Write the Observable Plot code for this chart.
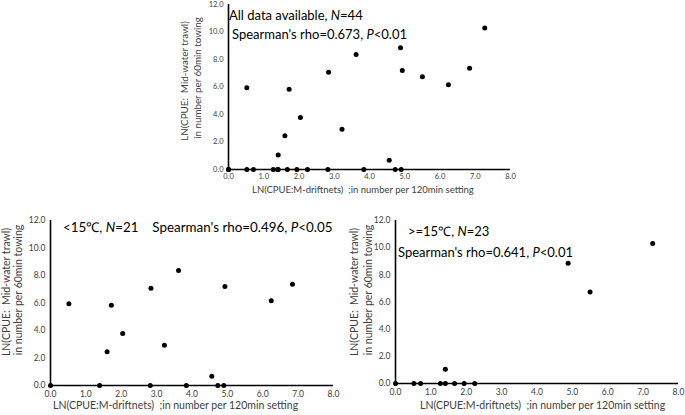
<!DOCTYPE html>
<html>
<head>
<meta charset="utf-8">
<script src="https://cdn.jsdelivr.net/npm/d3@7"></script>
<script src="https://cdn.jsdelivr.net/npm/@observablehq/plot@0.6"></script>
<style>
  html, body { margin: 0; padding: 0; background: #fff; }
  #root { position: relative; width: 685px; height: 415px; overflow: hidden; font-family: Lato, "Open Sans", sans-serif; }
  .svgbox { position: absolute; }
  .t { position: absolute; white-space: nowrap; color: #000; line-height: 1; }
  .lab { position: absolute; white-space: nowrap; color: #404040; line-height: 1; }
  .rot { position: absolute; white-space: nowrap; color: #404040; line-height: 1; transform: translate(-50%, -50%) rotate(-90deg); }
</style>
</head>
<body>
<div id="root"></div>
<script>
// Data: LN(CPUE) M-driftnets (x) vs LN(CPUE) mid-water trawl (y)
const coldX = [0.52, 1.72, 2.84, 3.62, 4.93, 6.24, 6.84, 1.60, 2.04, 3.22, 4.56, 0, 1.39, 2.82, 3.84, 4.73, 4.90];
const coldY = [5.94, 5.84, 7.08, 8.36, 7.20, 6.16, 7.37, 2.45, 3.78, 2.93, 0.68, 0, 0, 0, 0, 0, 0];
const warmX = [7.27, 4.88, 5.50, 1.41, 0, 0.52, 0.71, 1.27, 1.41, 1.67, 1.94, 2.24];
const warmY = [10.3, 8.85, 6.74, 1.05, 0, 0, 0, 0, 0, 0, 0, 0];
const xTicks = [0, 1, 2, 3, 4, 5, 6, 7, 8];
const yTicks = [0, 2, 4, 6, 8, 10, 12];
const xTitle = "LN(CPUE:M-driftnets)\u00a0 ;in number per 120min setting";
const yTitle1 = "LN(CPUE:\u00a0 Mid-water trawl)";
const yTitle2 = "in number per 60min towing";

const toPts = (xs, ys) => xs.map((x, i) => ({x, y: ys[i]}));
const cold = toPts(coldX, coldY);
const warm = toPts(warmX, warmY);
const all = cold.concat(warm);

const root = document.getElementById("root");

function panel({data, left, top, width, height, ml, mr, mt, mb, fs, r, pad}) {
  const p = Plot.plot({
    width, height,
    marginLeft: ml, marginRight: mr, marginTop: mt, marginBottom: mb,
    x: {domain: [0, 8]},
    y: {domain: [0, 12]},
    style: {fontFamily: "Lato, 'Open Sans', sans-serif", fontSize: fs + "px", color: "#404040", background: "transparent", overflow: "visible"},
    marks: [
      Plot.axisX(xTicks, {tickSize: 0, tickPadding: pad, tickFormat: d => d.toFixed(1), label: null, fill: "#404040"}),
      Plot.axisY(yTicks, {tickSize: 0, tickPadding: 5, tickFormat: d => d.toFixed(1), label: null, fill: "#404040"}),
      Plot.ruleY([0], {x1: 0, x2: 8, stroke: "#000", strokeWidth: 1.6}),
      Plot.ruleX([0], {y1: 0, y2: 12, stroke: "#000", strokeWidth: 1.6}),
      Plot.dot(data, {x: "x", y: "y", r, fill: "#000", stroke: "none"})
    ]
  });
  const box = document.createElement("div");
  box.className = "svgbox";
  box.style.left = left + "px";
  box.style.top = top + "px";
  box.appendChild(p);
  root.appendChild(box);
}

function addText(html, cls, left, top, size, extra) {
  const d = document.createElement("div");
  d.className = cls;
  d.innerHTML = html;
  d.style.left = left + "px";
  d.style.top = top + "px";
  d.style.fontSize = size + "px";
  if (extra) Object.assign(d.style, extra);
  root.appendChild(d);
}

// Top panel: all data
panel({data: all, left: 170, top: 0, width: 352, height: 200, ml: 58, mr: 12, mt: 4, mb: 31, fs: 7.5, r: 2.5, pad: 4});
// Bottom-left: <15C
panel({data: cold, left: 0, top: 210, width: 340, height: 205, ml: 50, mr: 7, mt: 10, mb: 30, fs: 8.5, r: 2.5, pad: 5});
// Bottom-right: >=15C
panel({data: warm, left: 345, top: 210, width: 340, height: 205, ml: 50, mr: 7, mt: 10, mb: 32, fs: 8.5, r: 2.5, pad: 5});

// Annotations
addText("All data available, <i>N</i>=44", "t", 229, 9, 13);
addText("Spearman's rho=0.673, <i>P</i>&lt;0.01", "t", 232, 28, 13);
addText("&lt;15\u2103, <i>N</i>=21\u00a0\u00a0\u00a0 Spearman's rho=0.496, <i>P</i>&lt;0.05", "t", 63, 221, 13.4);
addText("&gt;=15\u2103, <i>N</i>=23", "t", 408, 225, 13);
addText("Spearman's rho=0.641, <i>P</i>&lt;0.01", "t", 398, 246, 13);

// X titles
addText(xTitle, "lab", 252, 185, 9.5);
addText(xTitle, "lab", 53, 400, 10.5);
addText(xTitle, "lab", 420, 400, 10.5);

// Y titles (rotated)
addText(yTitle1, "rot", 185, 81, 9.8);
addText(yTitle2, "rot", 198, 78, 9.8);
addText(yTitle1, "rot", 6, 292, 10.5);
addText(yTitle2, "rot", 18, 290, 10.5);
addText(yTitle1, "rot", 354, 292, 10.5);
addText(yTitle2, "rot", 368, 290, 10.5);
</script>
</body>
</html>
